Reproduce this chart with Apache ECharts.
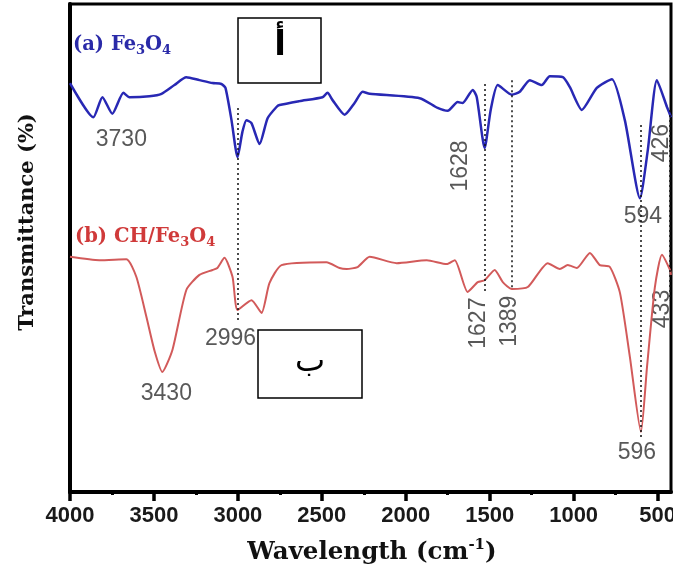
<!DOCTYPE html>
<html><head><meta charset="utf-8">
<script src="https://cdn.jsdelivr.net/npm/echarts@6/dist/echarts.min.js"></script>
<style>html,body{margin:0;padding:0;background:#fff}#c{width:673px;height:582px}</style>
</head><body><div id="c"></div>
<script>
// Spectrum (a) Fe3O4
const waveA = [4000,3861,3807,3748,3682,3646,3527,3455,3378,3307,3229,3151,3098,3074,3038,3002,2973,2949,2919,2871,2823,2770,2752,2633,2496,2466,2436,2364,2305,2257,2215,1917,1810,1750,1691,1661,1601,1577,1530,1494,1452,1368,1321,1261,1190,1142,1064,1023,951,862,772,695,605,558,504,444,420];
const transA = [83.8,76.8,80.9,77.5,81.8,80.9,81.1,81.6,83.4,85.0,84.4,83.8,83.6,82.8,76.2,68.6,73.8,76.2,75.6,71.3,76.6,78.9,79.3,80.1,80.9,81.8,80.3,77.3,79.7,82.0,81.6,80.7,78.7,78.1,79.9,79.7,82.4,80.9,70.5,78.3,83.4,81.4,82.0,84.4,83.4,85.2,85.0,83.0,78.3,82.8,84.6,76.2,60.2,70.1,84.4,78.9,76.8];
// Spectrum (b) CH/Fe3O4
const waveB = [4000,3825,3664,3605,3545,3497,3450,3390,3307,3229,3151,3122,3080,3032,3002,2919,2859,2812,2740,2472,2394,2352,2287,2215,2054,1875,1756,1708,1631,1571,1530,1470,1422,1368,1273,1154,1082,1035,981,903,844,784,724,665,599,563,516,474,426,420];
const transB = [48.2,47.5,47.7,44.1,35.9,29.0,24.6,29.1,41.4,44.5,45.5,45.9,48.0,44.1,37.3,39.3,36.7,42.8,46.5,47.1,45.9,45.7,46.1,48.2,46.9,47.5,46.7,47.5,41.0,43.0,43.4,45.5,43.0,41.6,42.0,46.9,45.7,46.5,45.9,49.0,46.5,46.1,40.8,27.7,12.3,25.6,42.0,48.6,45.5,44.5];
// Tick labels
const majorTicks = [4000,3500,3000,2500,2000,1500,1000,500];
const minorTicks = [3750,3250,2750,2250,1750,1250,750];
// Peak annotations
const peakText = ['3730','2996','3430','1628','1627','1389','594','426','433','596'];
const peakX = [3694,3044,3426,1673,1565,1380,587,474,468,623];
const peakY = [72.1,31.4,20.1,66.8,34.6,35.0,56.4,71.5,37.5,8.0];
const peakRot = [0,0,0,90,90,90,0,90,90,0];
// Dotted guide lines
const guideX = [3002,1530,1368,599,426];
const guideTop = [78.7,83.6,84.4,75.2,78.3];
const guideBottom = [35.2,40.8,41.4,10.7,39.3];

const chart = echarts.init(document.getElementById('c'), null, {renderer:'canvas'});
const tickFont = "'Liberation Sans',Arial,sans-serif";
const serif = "'DejaVu Serif','Liberation Serif',serif";
const option = {
  animation:false,
  backgroundColor:'#fff',
  grid:{left:70,right:2,top:4,bottom:90,show:true,borderColor:'#000',borderWidth:3,containLabel:false,outerBoundsMode:'none'},
  xAxis:[{
    type:'value',inverse:true,min:420,max:4000,position:'bottom',
    axisLine:{show:true,onZero:false,lineStyle:{color:'#000',width:4}},
    axisTick:{show:true,customValues:majorTicks,length:9,lineStyle:{color:'#000',width:3.5}},
    axisLabel:{customValues:majorTicks,margin:13,fontFamily:tickFont,fontWeight:'bold',fontSize:22,color:'#1a1a1a',hideOverlap:false,formatter:v=>String(v)},
    splitLine:{show:false}
  },{
    type:'value',inverse:true,min:420,max:4000,position:'bottom',
    axisLine:{show:false,onZero:false},
    axisTick:{show:true,customValues:minorTicks,length:3,lineStyle:{color:'#000',width:3}},
    axisLabel:{show:false},splitLine:{show:false}
  }],
  yAxis:{type:'value',min:0,max:100,
    axisLine:{show:true,onZero:false,lineStyle:{color:'#000',width:4}},
    axisTick:{show:false},axisLabel:{show:false},splitLine:{show:false}},
  series:[{
    type:'line',name:'a',data:waveA.map((w,i)=>[w,transA[i]]),
    symbol:'none',smooth:0.2,lineStyle:{color:'#2828b4',width:2.5},z:3,
    markLine:{silent:true,symbol:'none',label:{show:false},
      lineStyle:{type:[2,3],color:'#111',width:1.5},
      data:guideX.map((x,i)=>[{coord:[x,guideTop[i]]},{coord:[x,guideBottom[i]]}])}
  },{
    type:'line',name:'b',data:waveB.map((w,i)=>[w,transB[i]]),
    symbol:'none',smooth:0.2,lineStyle:{color:'#d25a5a',width:2},z:3
  },{
    type:'scatter',symbolSize:1,itemStyle:{color:'rgba(0,0,0,0)'},z:2,
    data:peakText.map((t,i)=>({name:t,value:[peakX[i],peakY[i]],label:{rotate:peakRot[i]}})),
    label:{show:true,position:'inside',formatter:'{b}',fontFamily:"'Liberation Sans',Arial,sans-serif",fontSize:23,color:'#2e2e2e'}
  }],
  graphic:[
    {type:'rect',shape:{x:238,y:18,width:83,height:65},style:{fill:'#fff',stroke:'#000',lineWidth:1.5},z:10},
    {type:'text',x:280,y:46,style:{text:'أ',fontFamily:"'DejaVu Sans'",fontWeight:'bold',fontSize:34,fill:'#000',align:'center',verticalAlign:'middle'},z:11},
    {type:'rect',shape:{x:258,y:330,width:104,height:68},style:{fill:'#fff',stroke:'#000',lineWidth:1.5},z:10},
    {type:'text',x:310,y:363,style:{text:'ب',fontFamily:"'DejaVu Sans'",fontSize:32,fill:'#000',align:'center',verticalAlign:'middle'},z:11},
    {type:'text',x:73,y:45,z:11,style:{text:'{n|(a) Fe}{s|3}{n|O}{s|4}',verticalAlign:'middle',align:'left',
      rich:{n:{fontFamily:serif,fontWeight:'bold',fontSize:19.5,lineHeight:24,fill:'#2a2aa8'},
            s:{fontFamily:serif,fontWeight:'bold',fontSize:13,lineHeight:12,verticalAlign:'bottom',fill:'#2a2aa8'}}}},
    {type:'text',x:75,y:237,z:11,style:{text:'{n|(b) CH/Fe}{s|3}{n|O}{s|4}',verticalAlign:'middle',align:'left',
      rich:{n:{fontFamily:serif,fontWeight:'bold',fontSize:19.5,lineHeight:24,fill:'#d03a3a'},
            s:{fontFamily:serif,fontWeight:'bold',fontSize:13,lineHeight:12,verticalAlign:'bottom',fill:'#d03a3a'}}}},
    {type:'text',x:28,y:222,rotation:Math.PI/2,z:11,style:{text:'Transmittance (%)',fontFamily:serif,fontWeight:'bold',fontSize:21,fill:'#111',align:'center',verticalAlign:'middle'}},
    {type:'text',x:372,y:553,z:11,style:{text:'{n|Wavelength (cm}{s|-1}{n|)}',align:'center',verticalAlign:'middle',
      rich:{n:{fontFamily:serif,fontWeight:'bold',fontSize:24.5,lineHeight:30,fill:'#111'},
            s:{fontFamily:serif,fontWeight:'bold',fontSize:15,lineHeight:14,verticalAlign:'top',fill:'#111'}}}}
  ]
};
chart.setOption(option);
</script></body></html>
